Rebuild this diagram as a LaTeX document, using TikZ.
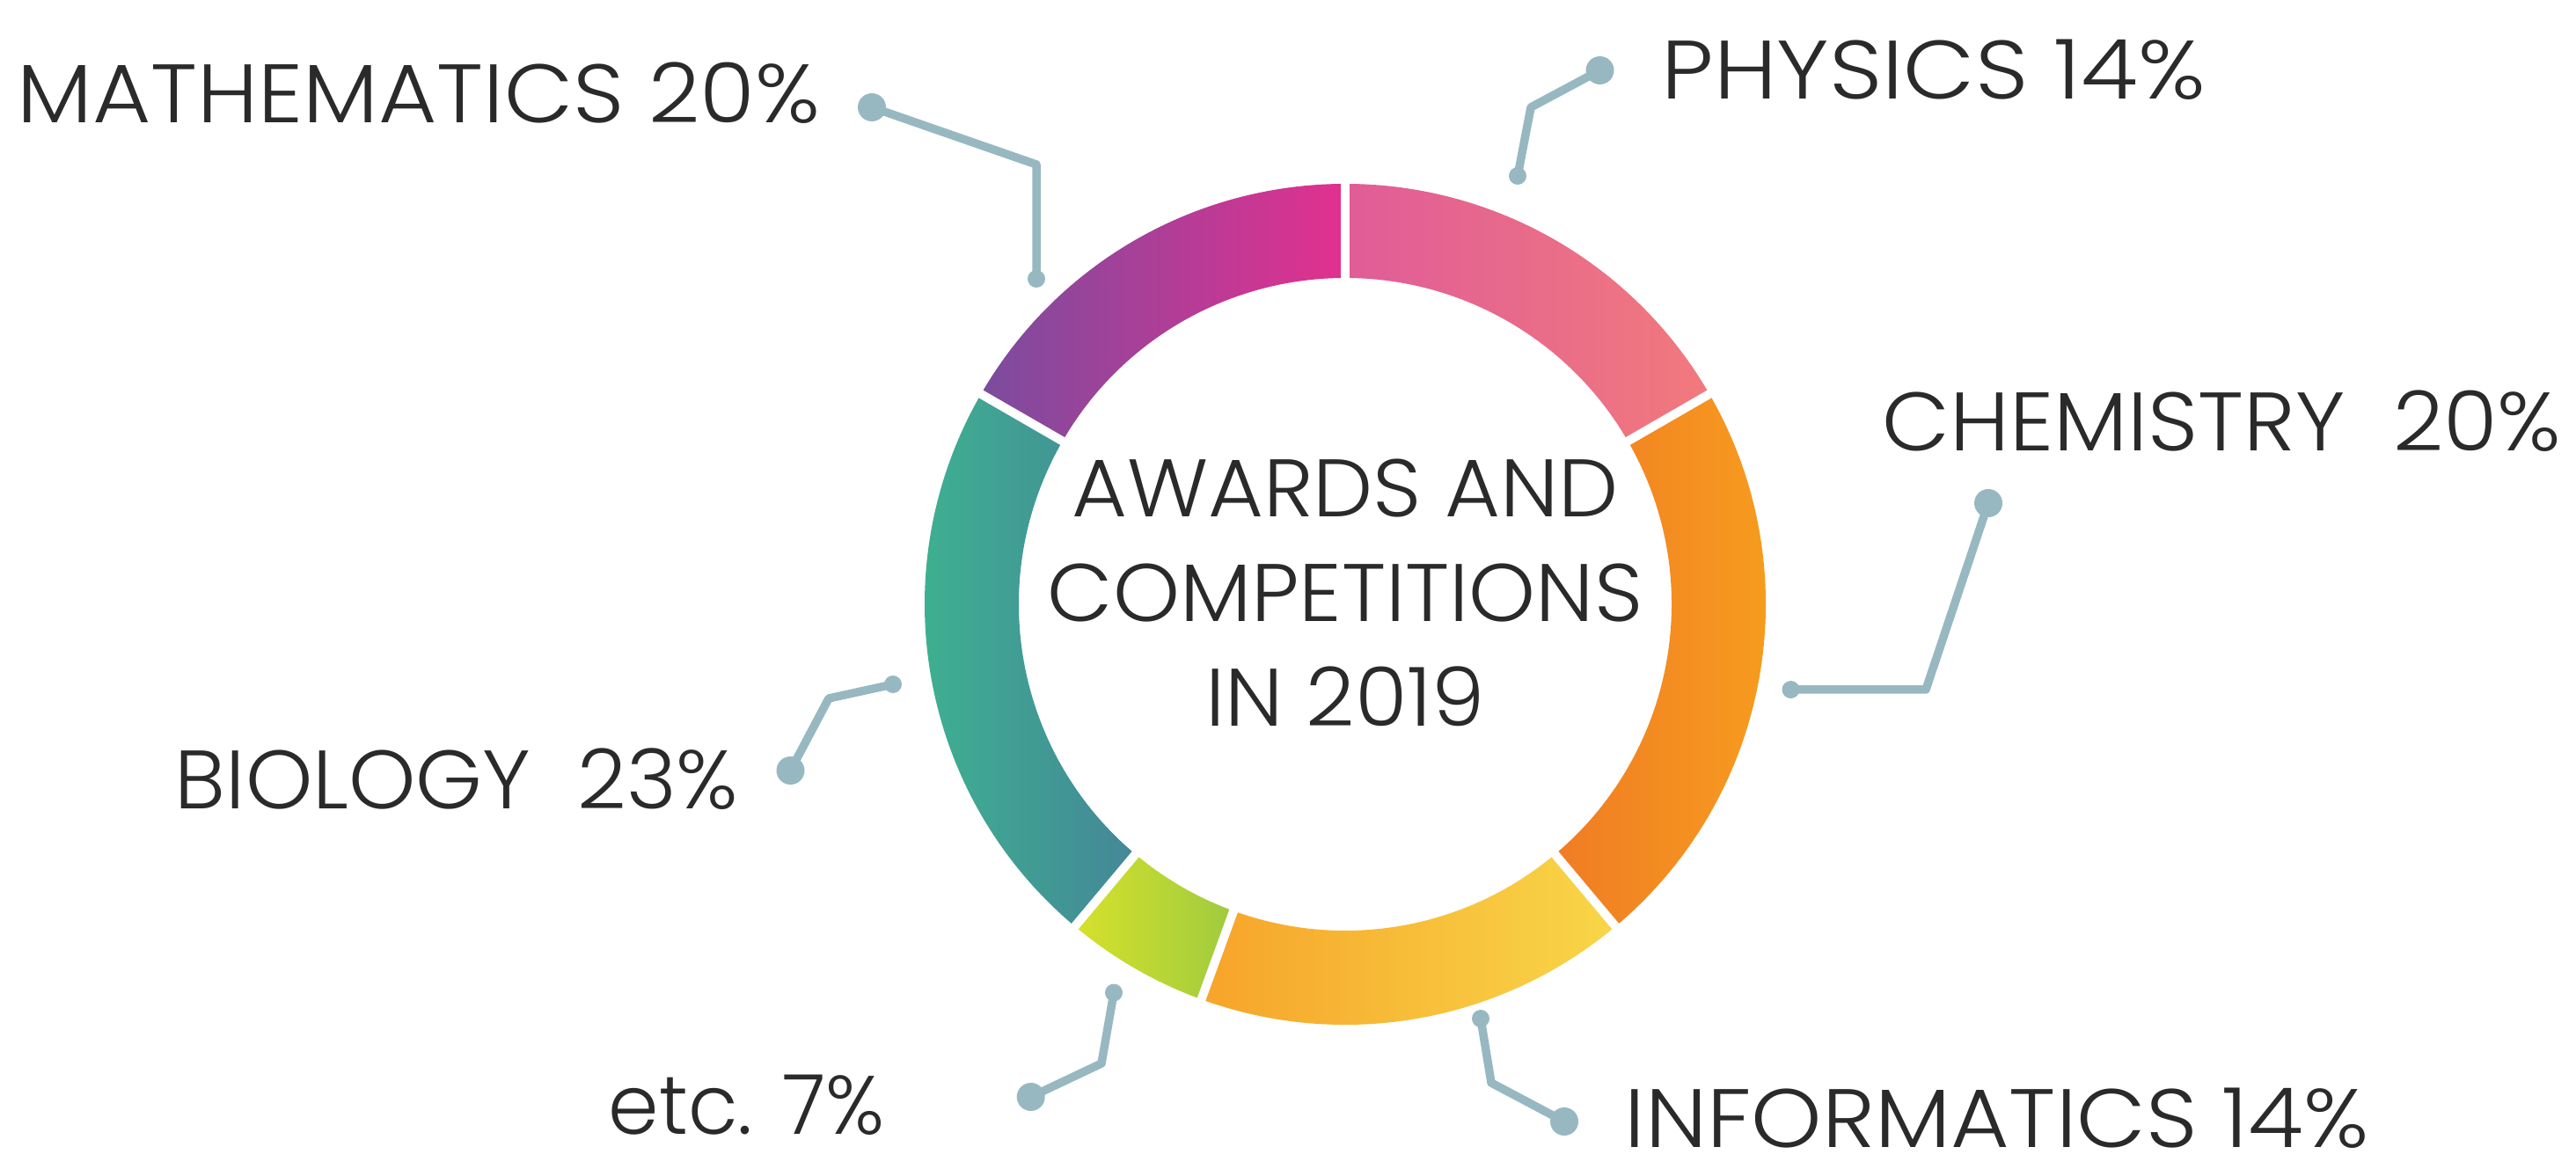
\documentclass[tikz,border=0pt]{standalone}
\usepackage{fontspec}
\newfontfamily\lblfont{Poppins Light}
\usepackage{tikz}
\usetikzlibrary{positioning}
\usepackage{xcolor}

\definecolor{leadgray}{HTML}{98B8C1}
\definecolor{txtgray}{HTML}{2A2A2A}
\definecolor{mathL}{HTML}{7A4C9E}
\definecolor{mathR}{HTML}{E3308F}
\definecolor{physL}{HTML}{E05C98}
\definecolor{physR}{HTML}{F17A7C}
\definecolor{chemL}{HTML}{F07C24}
\definecolor{chemR}{HTML}{F8A21D}
\definecolor{infoL}{HTML}{F7A42A}
\definecolor{infoR}{HTML}{F8D648}
\definecolor{etcL}{HTML}{D6E12B}
\definecolor{etcR}{HTML}{9FCB3F}
\definecolor{bioL}{HTML}{3DB890}
\definecolor{bioR}{HTML}{448797}

\begin{document}
\begin{tikzpicture}[
  lbl/.style={txtgray, inner sep=0pt, text depth=0pt, font=\lblfont\fontsize{26.8}{32}\selectfont},
  leader/.style={leadgray, line width=0.95mm, line join=round},
  bigdot/.style={circle, fill=leadgray, inner sep=0pt, minimum size=3.2mm},
  smalldot/.style={circle, fill=leadgray, inner sep=0pt, minimum size=2mm}
]

\useasboundingbox (0,0) rectangle (29.28,13.28);


\begin{scope}[shift={(15.29,6.41)}]
{
\shade[left color=mathL, right color=mathR] (150:4.78) arc[start angle=150, end angle=90, radius=4.78] -- (90:3.71) arc[start angle=90, end angle=150, radius=3.71] -- cycle;
\shade[left color=physL, right color=physR] (90:4.78) arc[start angle=90, end angle=30, radius=4.78] -- (30:3.71) arc[start angle=30, end angle=90, radius=3.71] -- cycle;
\shade[left color=chemL, right color=chemR] (30:4.78) arc[start angle=30, end angle=-50, radius=4.78] -- (-50:3.71) arc[start angle=-50, end angle=30, radius=3.71] -- cycle;
\shade[left color=infoL, right color=infoR] (-50:4.78) arc[start angle=-50, end angle=-110, radius=4.78] -- (-110:3.71) arc[start angle=-110, end angle=-50, radius=3.71] -- cycle;
\shade[left color=etcL, right color=etcR] (-110:4.78) arc[start angle=-110, end angle=-130, radius=4.78] -- (-130:3.71) arc[start angle=-130, end angle=-110, radius=3.71] -- cycle;
\shade[left color=bioL, right color=bioR] (-130:4.78) arc[start angle=-130, end angle=-210, radius=4.78] -- (-210:3.71) arc[start angle=-210, end angle=-130, radius=3.71] -- cycle;


%gaps between the pieces
\draw[white, line width=1mm] (90:3.6) -- (90:4.9);
\draw[white, line width=1mm] (30:3.6) -- (30:4.9);
\draw[white, line width=1mm] (-50:3.6) -- (-50:4.9);
\draw[white, line width=1mm] (-110:3.6) -- (-110:4.9);
\draw[white, line width=1mm] (-130:3.6) -- (-130:4.9);
\draw[white, line width=1mm] (150:3.6) -- (150:4.9);


\node[lbl, align=center, xscale=1.04, font=\lblfont\fontsize{26.4}{33.9}\selectfont] (title) at (0,0.13) {AWARDS AND\\COMPETITIONS\\IN 2019};
}
\end{scope}


\node[lbl, anchor=base east, xscale=1.08] (mathlbl) at (9.33,11.88) {MATHEMATICS 20\%};
\node[lbl, anchor=base west, xscale=1.12] (physlbl) at (18.88,12.15) {PHYSICS 14\%};
\node[lbl, anchor=base west, xscale=1.06] (chemlbl) at (21.39,8.15) {CHEMISTRY\ \ 20\%};
\node[lbl, anchor=base west, xscale=1.085] (infolbl) at (18.46,0.24) {INFORMATICS 14\%};
\node[lbl, anchor=base east, xscale=1.03] (biolbl) at (8.40,4.08) {BIOLOGY\ \ 23\%};
\node[lbl, anchor=base east, xscale=0.98] (etclbl) at (10.06,0.39) {etc. 7\%};


\node[bigdot] (mathdot) at (9.91,12.06) {};
\coordinate (mathbend) at (11.78,11.41);
\node[smalldot] (mathend) at (11.78,10.11) {};
\draw[leader] (mathdot.center) -- (mathbend) -- (mathend.center);

\node[bigdot] (physdot) at (18.185,12.48) {};
\coordinate (physbend) at (17.40,12.06);
\node[smalldot] (physend) at (17.25,11.28) {};
\draw[leader] (physdot.center) -- (physbend) -- (physend.center);

\node[bigdot] (chemdot) at (22.60,7.56) {};
\coordinate (chembend) at (21.89,5.44);
\node[smalldot] (chemend) at (20.355,5.44) {};
\draw[leader] (chemdot.center) -- (chembend) -- (chemend.center);

\node[bigdot] (infodot) at (17.78,0.53) {};
\coordinate (infobend) at (16.95,0.97);
\node[smalldot] (infoend) at (16.83,1.70) {};
\draw[leader] (infodot.center) -- (infobend) -- (infoend.center);

\node[bigdot] (biodot) at (8.985,4.52) {};
\coordinate (biobend) at (9.42,5.34);
\node[smalldot] (bioend) at (10.15,5.50) {};
\draw[leader] (biodot.center) -- (biobend) -- (bioend.center);

\node[bigdot] (etcdot) at (11.717,0.81) {};
\coordinate (etcbend) at (12.52,1.19);
\node[smalldot] (etcend) at (12.66,1.995) {};
\draw[leader] (etcdot.center) -- (etcbend) -- (etcend.center);


\end{tikzpicture}
\end{document}
